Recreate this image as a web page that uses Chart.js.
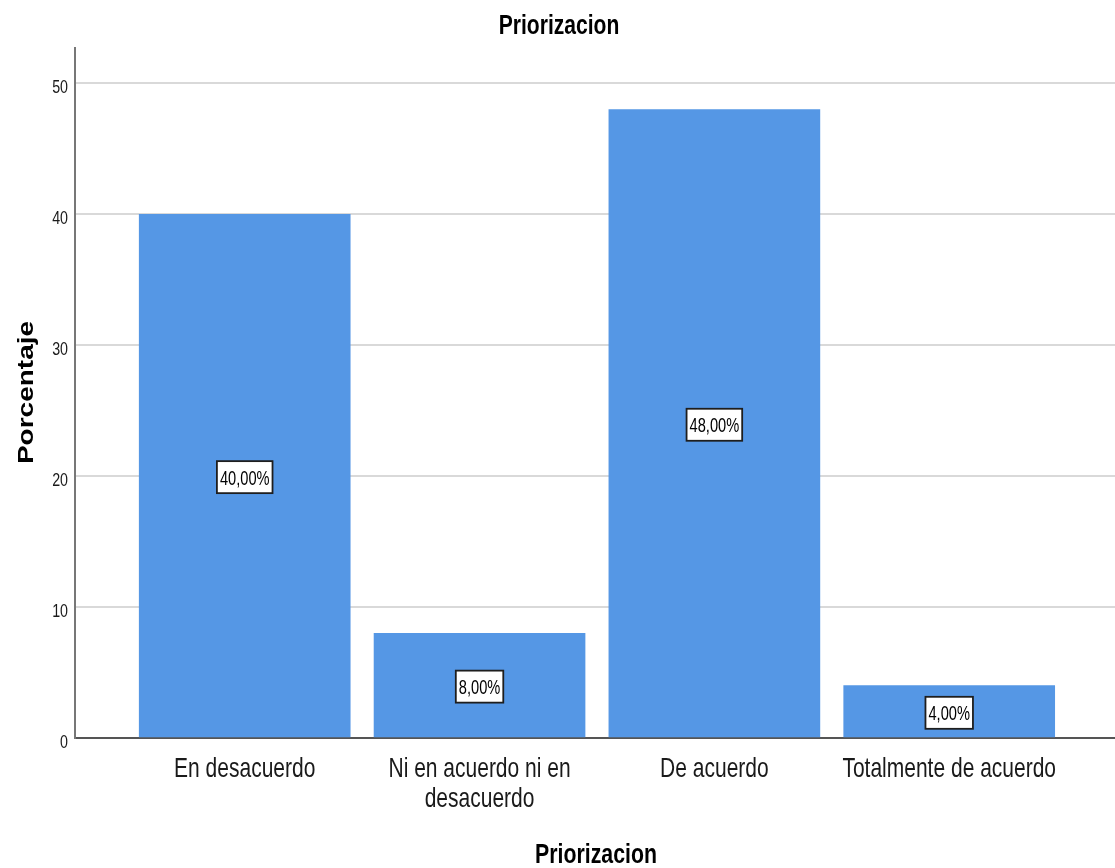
<!DOCTYPE html>
<html>
<head>
<meta charset="utf-8">
<script src="https://cdn.jsdelivr.net/npm/chart.js@4/dist/chart.umd.min.js"></script>
<style>
  html, body { margin: 0; padding: 0; background: #ffffff; }
  #wrap { width: 1115px; height: 868px; }
</style>
</head>
<body>
<div id="wrap"><canvas id="c" width="1115" height="868"></canvas></div>
<script>
const categories = ["En desacuerdo", ["Ni en acuerdo ni en", "desacuerdo"], "De acuerdo", "Totalmente de acuerdo"];
const percentages = [40, 8, 48, 4];
const yTicks = [0, 10, 20, 30, 40, 50];
const chartTitle = "Priorizacion";
const xTitle = "Priorizacion";
const yTitle = "Porcentaje";

const FAMILY = "'Liberation Sans', Arial, Helvetica, sans-serif";
const SQUEEZE = 0.75;   // the reference uses a condensed sans face

const barData = percentages.map((v, i) => ({ x: i, y: v }));

function narrowText(ctx, txt, x, y, font, align, sx, color) {
  ctx.save();
  ctx.translate(x, y);
  ctx.scale(sx, 1);
  ctx.font = font;
  ctx.textAlign = align;
  ctx.textBaseline = 'alphabetic';
  ctx.fillStyle = color;
  ctx.fillText(txt, 0, 0);
  ctx.restore();
}

const textLayer = {
  id: 'textLayer',
  afterDraw(chart) {
    const ctx = chart.ctx;
    const xs = chart.scales.x, ys = chart.scales.y;
    const area = chart.chartArea;

    // chart title
    narrowText(ctx, chartTitle, 559, 34, "bold 27px " + FAMILY, 'center', 0.78, '#000000');

    // y tick labels
    yTicks.forEach(v => {
      narrowText(ctx, String(v), area.left - 7, ys.getPixelForValue(v) + 9.5,
        "19px " + FAMILY, 'right', SQUEEZE, '#1a1a1a');
    });

    // x tick labels
    categories.forEach((c, i) => {
      const lines = Array.isArray(c) ? c : [c];
      const cx = xs.getPixelForValue(i);
      lines.forEach((ln, k) => {
        narrowText(ctx, ln, cx, area.bottom + 39 + k * 30, "28px " + FAMILY, 'center', SQUEEZE, '#1a1a1a');
      });
    });

    // x axis title
    narrowText(ctx, xTitle, (area.left + area.right) / 2 + 1, 863, "bold 28px " + FAMILY, 'center', 0.76, '#000000');

    // y axis title (rotated)
    ctx.save();
    ctx.translate(33, (area.top + area.bottom) / 2 - 0.5);
    ctx.rotate(-Math.PI / 2);
    ctx.scale(1, 0.8);
    ctx.font = "bold 28px " + FAMILY;
    ctx.textAlign = 'center';
    ctx.textBaseline = 'alphabetic';
    ctx.fillStyle = '#000000';
    ctx.fillText(yTitle, 0, 0);
    ctx.restore();
  }
};

const labelBoxes = {
  id: 'labelBoxes',
  afterDatasetsDraw(chart) {
    const ctx = chart.ctx;
    const meta = chart.getDatasetMeta(0);
    const font = "19.5px " + FAMILY;
    meta.data.forEach((el, i) => {
      const txt = percentages[i].toFixed(2).replace('.', ',') + '%';
      const cx = el.x;
      const cy = (el.y + el.base) / 2 + 1.5;
      ctx.save();
      ctx.font = font;
      const w = ctx.measureText(txt).width * SQUEEZE + 6;
      const h = 32;
      ctx.fillStyle = '#ffffff';
      ctx.fillRect(cx - w / 2, cy - h / 2, w, h);
      ctx.lineWidth = 1.8;
      ctx.strokeStyle = '#1e1e1e';
      ctx.strokeRect(cx - w / 2, cy - h / 2, w, h);
      ctx.restore();
      narrowText(ctx, txt, cx, cy + 7.5, font, 'center', SQUEEZE, '#000000');
    });
  }
};

new Chart(document.getElementById('c'), {
  type: 'bar',
  data: {
    datasets: [{
      data: barData,
      backgroundColor: '#5597E5',
      borderWidth: 0,
      barThickness: 211
    }]
  },
  options: {
    responsive: false,
    animation: false,
    devicePixelRatio: 1,
    layout: { padding: { top: 48, left: 0, right: 0, bottom: 0 } },
    plugins: {
      legend: { display: false },
      tooltip: { enabled: false },
      title: { display: false }
    },
    scales: {
      x: {
        type: 'linear',
        offset: false,
        min: -0.7227,
        max: 3.706,
        grid: { display: false, drawTicks: false },
        border: { display: true, color: '#555555', width: 2 },
        afterBuildTicks(scale) {
          scale.ticks = categories.map((c, i) => ({ value: i }));
        },
        afterFit(scale) { scale.height = 130; },
        ticks: { display: false }
      },
      y: {
        min: 0,
        max: 52.7,
        afterBuildTicks(scale) {
          scale.ticks = yTicks.map(v => ({ value: v }));
        },
        afterFit(scale) { scale.width = 75; },
        grid: { color: '#d9d9d9', lineWidth: 2, drawTicks: false },
        border: { display: true, color: '#777777', width: 2 },
        ticks: { display: false }
      }
    }
  },
  plugins: [labelBoxes, textLayer]
});
</script>
</body>
</html>
